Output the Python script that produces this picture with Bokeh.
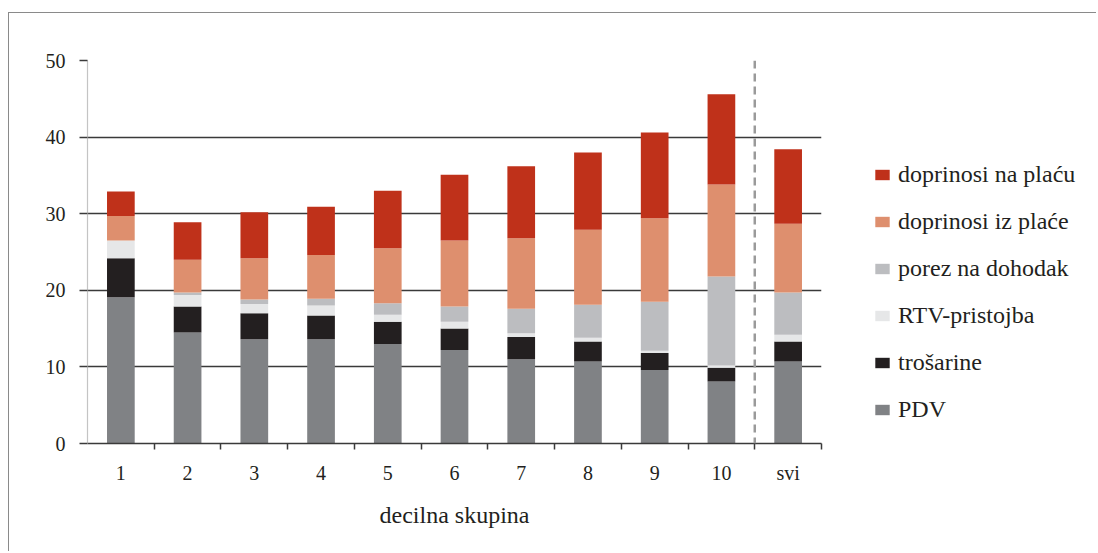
from bokeh.plotting import figure
from bokeh.layouts import row
from bokeh.models import ColumnDataSource, FixedTicker, Legend, LegendItem, Span, Range1d
from bokeh.embed import file_html
from bokeh.resources import INLINE

categories = ["1", "2", "3", "4", "5", "6", "7", "8", "9", "10", "svi"]
pdv = [19.1, 14.5, 13.6, 13.6, 13.0, 12.2, 11.0, 10.7, 9.6, 8.1, 10.7]
trosarine = [5.1, 3.4, 3.4, 3.1, 2.9, 2.8, 2.9, 2.6, 2.2, 1.8, 2.6]
rtv = [2.3, 1.5, 1.2, 1.3, 0.9, 0.9, 0.5, 0.5, 0.3, 0.3, 0.9]
porez = [0.0, 0.3, 0.6, 0.9, 1.5, 2.0, 3.2, 4.3, 6.4, 11.6, 5.5]
doprinosi_iz = [3.2, 4.3, 5.4, 5.7, 7.2, 8.6, 9.2, 9.8, 10.9, 12.0, 9.0]
doprinosi_na = [3.2, 4.9, 6.0, 6.3, 7.5, 8.6, 9.4, 10.1, 11.2, 11.8, 9.7]

series_keys = ["pdv", "trosarine", "rtv", "porez", "iz", "na"]
series_labels = ["PDV", "trošarine", "RTV-pristojba", "porez na dohodak",
                 "doprinosi iz plaće", "doprinosi na plaću"]
series_colors = ["#808285", "#231f20", "#e6e7e8", "#bcbdc0", "#de8f6e", "#bf311a"]
y_ticks = [0, 10, 20, 30, 40, 50]

FONT = "Liberation Serif"
TXT = "#231f20"
BORDER = "1.5px solid #8a8a8a"

xs = list(range(1, len(categories) + 1))
source = ColumnDataSource(dict(x=xs, pdv=pdv, trosarine=trosarine, rtv=rtv,
                               porez=porez, iz=doprinosi_iz, na=doprinosi_na))

p = figure(width=822, height=539, output_backend="svg", toolbar_location=None,
           x_range=Range1d(0.5, len(categories) + 0.5), y_range=Range1d(0, 50),
           min_border_left=78, min_border_right=10, min_border_top=47,
           min_border_bottom=109)
p.styles = {"border-top": BORDER, "border-left": BORDER}
p.margin = (12, 0, 0, 8)
p.outline_line_color = None
p.background_fill_color = "white"
p.border_fill_color = "white"

renderers = p.vbar_stack(series_keys, x="x", width=0.415, color=series_colors,
                         source=source, line_width=0)

# grid
p.xgrid.visible = False
p.ygrid.ticker = FixedTicker(ticks=y_ticks)
p.ygrid.grid_line_color = "#3a3a3a"
p.ygrid.grid_line_width = 1.5

# y axis
p.yaxis.ticker = FixedTicker(ticks=y_ticks)
p.yaxis.axis_line_color = "#c4c4c4"
p.yaxis.axis_line_width = 1.2
p.yaxis.major_tick_out = 8
p.yaxis.major_tick_in = 0
p.yaxis.major_tick_line_color = "#3a3a3a"
p.yaxis.major_tick_line_width = 1.5
p.yaxis.minor_tick_line_color = None
p.yaxis.major_label_standoff = 14
p.yaxis.major_label_text_font = FONT
p.yaxis.major_label_text_font_size = "20px"
p.yaxis.major_label_text_color = TXT

# x axis
p.xaxis.ticker = FixedTicker(ticks=xs, minor_ticks=[v + 0.5 for v in xs])
p.xaxis.major_label_overrides = {v: c for v, c in zip(xs, categories)}
p.xaxis.axis_line_color = "#3a3a3a"
p.xaxis.axis_line_width = 1.5
p.xaxis.major_tick_out = 0
p.xaxis.major_tick_in = 0
p.xaxis.major_tick_line_color = None
p.xaxis.minor_tick_out = 6
p.xaxis.minor_tick_in = 0
p.xaxis.minor_tick_line_color = "#3a3a3a"
p.xaxis.minor_tick_line_width = 1.5
p.xaxis.major_label_standoff = 12
p.xaxis.major_label_text_font = FONT
p.xaxis.major_label_text_font_size = "20px"
p.xaxis.major_label_text_color = TXT
p.xaxis.axis_label = "decilna skupina"
p.xaxis.axis_label_text_font = FONT
p.xaxis.axis_label_text_font_size = "24px"
p.xaxis.axis_label_text_font_style = "normal"
p.xaxis.axis_label_text_color = TXT
p.xaxis.axis_label_standoff = 15

# dashed separator before "svi"
p.add_layout(Span(location=len(categories) - 0.5, dimension="height",
                  line_color="#9a9a9a", line_width=2.5, line_dash="8 5"))

# legend panel: a second figure holding the legend; its copies of the bars
# lie outside its visible x range, so only the legend shows
pl = figure(width=266, height=539, output_backend="svg", toolbar_location=None,
            x_range=Range1d(-20, -19), y_range=Range1d(0, 50),
            x_axis_location=None, y_axis_location=None,
            min_border_left=0, min_border_right=0, min_border_top=0,
            min_border_bottom=0)
pl.styles = {"border-top": BORDER}
pl.margin = (12, 0, 0, 0)
pl.outline_line_color = None
pl.grid.visible = False
pl.border_fill_color = "white"
leg_renderers = pl.vbar_stack(series_keys, x="x", width=0.415, color=series_colors,
                              source=source, line_width=0)

items = [LegendItem(label=lbl, renderers=[r])
         for lbl, r in zip(series_labels, leg_renderers)][::-1]
legend = Legend(items=items, location=(43, 20), glyph_width=18, glyph_height=13,
                label_standoff=7, spacing=20, padding=0, margin=0,
                border_line_color=None, background_fill_alpha=0,
                label_text_font=FONT, label_text_font_size="24px",
                label_text_color=TXT)
pl.add_layout(legend)

layout = row(p, pl, spacing=0)
open("out.html", "w").write(file_html(layout, INLINE))
